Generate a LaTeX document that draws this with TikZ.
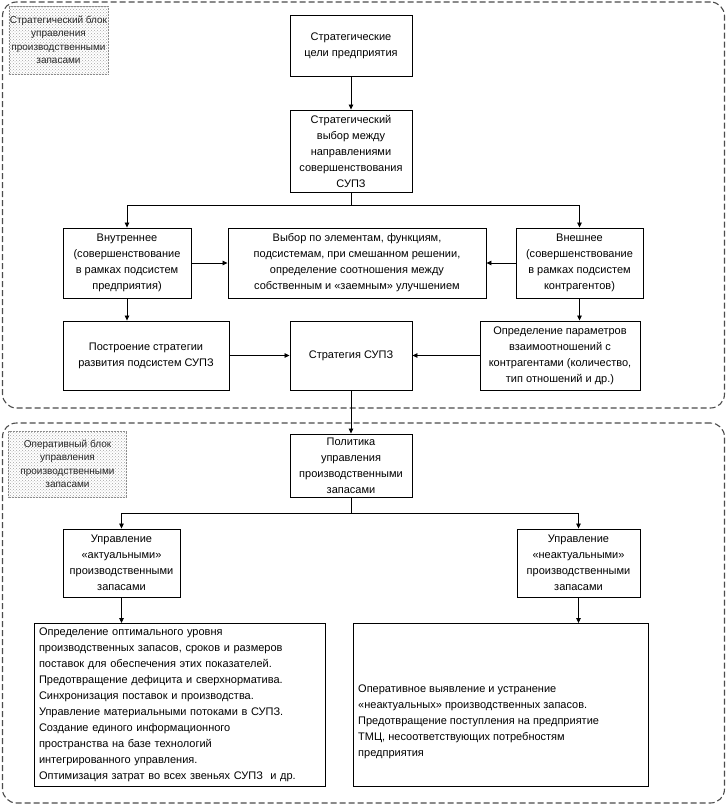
\documentclass[tikz,border=0pt]{standalone}
\usepackage{fontspec}
\setmainfont{Liberation Sans}
\usetikzlibrary{arrows.meta,patterns}
\begin{document}
\begin{tikzpicture}[x=1pt,y=-1pt,
  box/.style={draw, line width=0.9pt, align=center, inner sep=2pt,
    font=\fontsize{11}{16}\selectfont},
  lab/.style={draw=black!45, densely dotted, line width=0.5pt, pattern=crosshatch dots, pattern color=black!35,
    align=center, inner sep=1pt, font=\fontsize{10}{13.5}\selectfont, text=black!85},
  frame/.style={draw=black!70, dash pattern=on 6pt off 3pt, line width=1.1pt, rounded corners=14pt},
  arr/.style={-{Triangle[length=5pt,width=4.5pt]}, line width=0.8pt},
  ln/.style={line width=0.8pt}]
\useasboundingbox (0,0) rectangle (727,806);
\fill[white] (0,0) rectangle (727,806);
% frames
\node[frame, minimum width=722, minimum height=406] (blockA) at (363.5,205) {};
\node[frame, minimum width=722, minimum height=380] (blockB) at (363.5,613) {};
% labels
\node[lab, minimum width=97, minimum height=68] (labA) at (58.5,40) {Стратегический блок\\управления\\производственными\\запасами};
\node[lab, minimum width=118, minimum height=66] (labB) at (67.5,464) {Оперативный блок\\управления\\производственными\\запасами};
% boxes
\node[box, minimum width=122, minimum height=61] (goals) at (351,45.5) {Стратегические\\цели предприятия};
\node[box, minimum width=122, minimum height=82] (choice) at (351,151) {Стратегический\\выбор между\\направлениями\\совершенствования\\СУПЗ};
\node[box, minimum width=128, minimum height=70] (inner) at (127,263) {Внутреннее\\(совершенствование\\в рамках подсистем\\предприятия)};
\node[box, minimum width=258, minimum height=70] (vybor) at (357,263) {Выбор по элементам, функциям,\\подсистемам, при смешанном решении,\\определение соотношения между\\собственным и «заемным» улучшением};
\node[box, minimum width=127, minimum height=70] (outer) at (579.5,263) {Внешнее\\(совершенствование\\в рамках подсистем\\контрагентов)};
\node[box, minimum width=166, minimum height=69] (postr) at (146,355.5) {Построение стратегии\\развития подсистем СУПЗ};
\node[box, minimum width=122, minimum height=69] (strat) at (351,355.5) {Стратегия СУПЗ};
\node[box, minimum width=160, minimum height=69] (opred) at (560,355.5) {Определение параметров\\взаимоотношений с\\контрагентами (количество,\\тип отношений и др.)};
\node[box, minimum width=122, minimum height=63] (polit) at (351,465.5) {Политика\\управления\\производственными\\запасами};
\node[box, minimum width=117, minimum height=68] (akt) at (121.5,563) {Управление\\«актуальными»\\производственными\\запасами};
\node[box, minimum width=123, minimum height=68] (neakt) at (578.5,563) {Управление\\«неактуальными»\\производственными\\запасами};
\node[box, minimum width=291, minimum height=163, text width=281, align=left] (bigL) at (179.5,705) {Определение оптимального уровня\\производственных запасов, сроков и размеров\\поставок для обеспечения этих показателей.\\Предотвращение дефицита и сверхнорматива.\\Синхронизация поставок и производства.\\Управление материальными потоками в СУПЗ.\\Создание единого информационного\\пространства на базе технологий\\интегрированного управления.\\Оптимизация затрат во всех звеньях СУПЗ\ \ и др.};
\node[box, minimum width=295, minimum height=163] (bigR) at (500.5,705) {};
\node[anchor=west, align=left, inner sep=0pt, font=\fontsize{11}{16}\selectfont] (bigRt) at (358,722) {Оперативное выявление и устранение\\«неактуальных» производственных запасов.\\Предотвращение поступления на предприятие\\ТМЦ, несоответствующих потребностям\\предприятия};
% connectors
\coordinate (j1) at (351,205);
\coordinate (j2) at (351,513);
\draw[arr] (goals) -- (choice);
\draw[ln] (choice.south) -- (j1);
\draw[arr] (j1) -| (inner.north);
\draw[arr] (j1) -| (outer.north);
\draw[arr] (inner) -- (vybor);
\draw[arr] (outer) -- (vybor);
\draw[arr] (inner.south) -- (inner.south |- postr.north);
\draw[arr] (outer.south) -- (outer.south |- opred.north);
\draw[arr] (postr) -- (strat);
\draw[arr] (opred) -- (strat);
\draw[arr] (strat) -- (polit);
\draw[ln] (polit.south) -- (j2);
\draw[arr] (j2) -| (akt.north);
\draw[arr] (j2) -| (neakt.north);
\draw[arr] (akt.south) -- (akt.south |- bigL.north);
\draw[arr] (neakt.south) -- (neakt.south |- bigR.north);
\end{tikzpicture}
\end{document}
